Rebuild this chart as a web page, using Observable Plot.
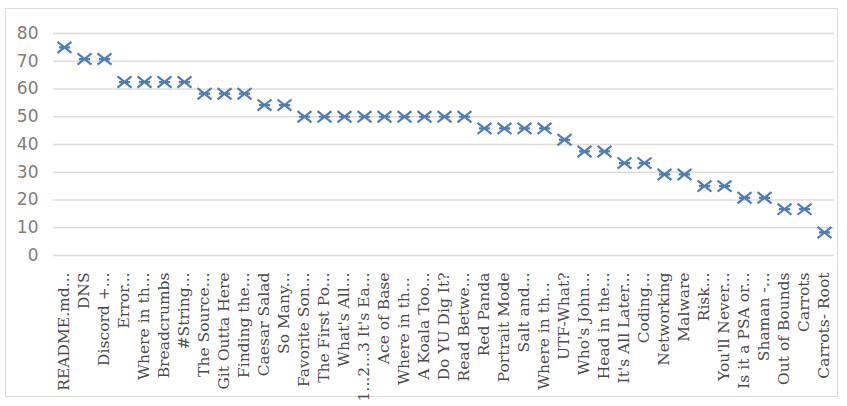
<!DOCTYPE html>
<html>
<head>
<meta charset="utf-8">
<script src="https://cdn.jsdelivr.net/npm/d3@7"></script>
<script src="https://cdn.jsdelivr.net/npm/@observablehq/plot@0.6"></script>
<style>
  body { margin: 0; background: #fff; }
  #wrap { position: relative; width: 847px; height: 406px; }
  #box { position: absolute; left: 5px; top: 8px; width: 833px; height: 389px; border: 1px solid #dcdcdc; box-sizing: border-box; }
  #chart { position: absolute; left: 0; top: 0; }
</style>
</head>
<body>
<div id="wrap"><div id="box"></div><div id="chart"></div></div>
<script>
const categories = [
  "README.md...", "DNS", "Discord +...", "Error...", "Where in th...", "Breadcrumbs",
  "#String...", "The Source...", "Git Outta Here", "Finding the...", "Caesar Salad",
  "So Many...", "Favorite Son...", "The First Po...", "What's All...", "1...2...3 It's Ea...",
  "Ace of Base", "Where in th... ", "A Koala Too...", "Do YU Dig It?", "Read Betwe...",
  "Red Panda", "Portrait Mode", "Salt and...", "Where in th...  ", "UTF-What?",
  "Who's John...", "Head in the...", "It's All Later...", "Coding...", "Networking",
  "Malware", "Risk...", "You'll Never...", "Is it a PSA or...", "Shaman -...",
  "Out of Bounds", "Carrots", "Carrots- Root"
];
const values = [
  75, 70.8, 70.8, 62.5, 62.5, 62.5,
  62.5, 58.3, 58.3, 58.3, 54.2,
  54.2, 50, 50, 50, 50,
  50, 50, 50, 50, 50,
  45.8, 45.8, 45.8, 45.8, 41.7,
  37.5, 37.5, 33.3, 33.3, 29.2,
  29.2, 25, 25, 20.8, 20.8,
  16.7, 16.7, 8.3
];
const yTicks = [0, 10, 20, 30, 40, 50, 60, 70, 80];

const data = categories.map((c, i) => ({name: c, value: values[i]}));

const starSymbol = {
  draw(context, size) {
    const r = Math.sqrt(size / Math.PI);
    const w = r, h = r * 0.8;
    context.moveTo(-w, -h); context.lineTo(w, h);
    context.moveTo(-w, h); context.lineTo(w, -h);
    context.moveTo(-w * 0.8, 0); context.lineTo(w * 0.8, 0);
  }
};

const chart = Plot.plot({
  width: 847,
  height: 406,
  marginLeft: 53,
  marginRight: 13,
  marginTop: 33,
  marginBottom: 151,
  style: {background: "transparent"},
  x: {domain: categories, padding: 0, label: null},
  y: {domain: [0, 80], label: null},
  marks: [
    Plot.gridY(yTicks, {stroke: "#e2dcd8", strokeOpacity: 1, strokeWidth: 1.5}),
    Plot.axisY(yTicks, {
      tickSize: 0, tickPadding: 15, label: null,
      fontSize: 17, fill: "#827d79", fontFamily: "DejaVu Sans"
    }),
    Plot.axisX({
      tickSize: 0, tickPadding: 17, tickRotate: -90, label: null,
      fontSize: 15.5, fill: "#4a4a4a", fontFamily: "DejaVu Serif"
    }),
    Plot.dot(data, {
      x: "name", y: "value", symbol: starSymbol, r: 7,
      stroke: "#4f7db6", strokeWidth: 2.2, fill: "none"
    })
  ]
});
document.getElementById("chart").appendChild(chart);
</script>
</body>
</html>
